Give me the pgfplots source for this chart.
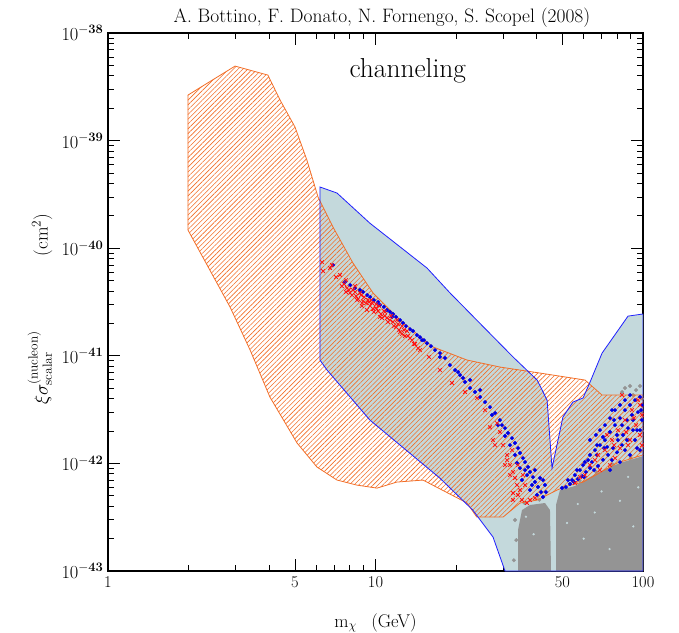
\documentclass[border=0pt]{standalone}
\usepackage{fix-cm}
\usepackage{pgfplots}
\pgfplotsset{compat=1.18}
\usepackage{pgfplotstable}
\usetikzlibrary{patterns.meta}
\definecolor{orng}{RGB}{242,110,40}
\definecolor{bline}{RGB}{30,30,255}
\definecolor{bfill}{RGB}{196,217,220}
\definecolor{gcloud}{RGB}{148,148,148}
\definecolor{rcross}{RGB}{255,20,20}
\definecolor{bdot}{RGB}{0,0,230}

\pgfplotstableread{
x y
6.20 9.14e-42
6.20 3.71e-40
7.18 3.26e-40
9.53 1.71e-40
15.58 6.55e-41
19.0 3.84e-41
23.9 2.15e-41
32.7 9.75e-42
40.2 5.96e-42
43.8 3.88e-42
45.7 9.06e-43
50.2 2.70e-42
54.7 3.72e-42
59.7 4.06e-42
63.4 5.71e-42
70.3 1.06e-41
87.9 2.34e-41
100 2.45e-41
100 1e-43
30.5 1e-43
27.5 2.07e-43
23.1 3.69e-43
17.4 7.31e-43
9.53 2.53e-42
6.59 7.38e-42
6.20 9.14e-42
}\blueregion

\pgfplotstableread{
x y
1.99 2.65e-39
2.985 4.93e-39
3.96 4.07e-39
4.40 2.38e-39
5.00 1.34e-39
5.54 6.6e-40
6.10 2.99e-40
6.94 1.57e-40
8.24 7.28e-41
9.79 3.84e-41
12.35 2.15e-41
16.4 1.21e-41
22.0 9.14e-42
29.2 7.87e-42
41.2 6.92e-42
60.7 5.96e-42
70.3 4.32e-42
100 4.32e-42
100 1.20e-42
80.0 1.01e-42
59.7 6.71e-43
52.0 6.17e-43
47.7 5.66e-43
40.2 4.57e-43
34.7 4.29e-43
30.0 3.18e-43
23.9 3.18e-43
22.0 4.29e-43
15.05 7.01e-43
12.0 6.71e-43
10.13 5.90e-43
8.53 6.29e-43
7.18 7.01e-43
6.04 9.27e-43
5.09 1.55e-42
4.03 4.14e-42
3.40 1.13e-41
2.86 2.84e-41
1.99 1.48e-40
1.99 2.65e-39
}\orangeregion

\begin{document}
\begin{tikzpicture}
\useasboundingbox (-108bp,-62bp) rectangle (571bp,571bp);
\begin{axis}[
  at={(0,0)}, anchor=south west,
  scale only axis, width=535bp, height=538bp,
  clip mode=individual,
  xmode=log, ymode=log,
  xmin=1, xmax=100, ymin=1e-43, ymax=1e-38,
  xtick={1,5,10,50,100}, xticklabels={1,5,10,50,100},
  minor xtick={2,3,4,6,7,8,9,20,30,40,60,70,80,90},
  ytick={1e-43,1e-42,1e-41,1e-40,1e-39,1e-38},
  yticklabels={$10^{\mathbf{-43}}$,$10^{\mathbf{-42}}$,$10^{\mathbf{-41}}$,$10^{\mathbf{-40}}$,$10^{\mathbf{-39}}$,$10^{\mathbf{-38}}$},
  minor ytick={2e-43,3e-43,4e-43,5e-43,6e-43,7e-43,8e-43,9e-43,
               2e-42,3e-42,4e-42,5e-42,6e-42,7e-42,8e-42,9e-42,
               2e-41,3e-41,4e-41,5e-41,6e-41,7e-41,8e-41,9e-41,
               2e-40,3e-40,4e-40,5e-40,6e-40,7e-40,8e-40,9e-40,
               2e-39,3e-39,4e-39,5e-39,6e-39,7e-39,8e-39,9e-39},
  tick align=inside, xtick pos=both, ytick pos=both,
  major tick length=12bp, minor tick length=6bp,
  every tick/.style={black, line width=0.8pt},
  axis line style={line width=1.2pt},
  xticklabel style={font=\fontsize{16.5}{18}\selectfont, yshift=-2bp},
  yticklabel style={font=\fontsize{18.5}{20}\selectfont, xshift=-1bp},
  every axis x label/.style={at={(axis description cs:0.5,-0.072)}, anchor=north, font=\fontsize{18.5}{21}\selectfont},
  every axis y label/.style={at={(axis description cs:-0.127,0.487)}, rotate=90, anchor=center, font=\fontsize{19}{22}\selectfont},
  xlabel={$\mathrm{m}_\chi$\ \ \,(GeV)},
  ylabel={$\xi\sigma^{(\mathrm{nucleon})}_{\mathrm{scalar}}$\hspace{75bp}$(\mathrm{cm}^2)$},
]
% light blue region
\addplot[draw=none, fill=bfill] table {\blueregion};
% gray cloud
\addplot[draw=none, fill=gcloud] coordinates {
(34.10,1e-43) (34.10,2.40e-43) (35.29,3.69e-43) (37.81,4.11e-43) (43.01,4.29e-43) (44.90,3.69e-43) (45.3,1e-43)};
\addplot[draw=none, fill=gcloud] coordinates {
(47.29,1e-43) (47.29,4.11e-43) (48.94,5.66e-43) (55.69,6.17e-43) (63.37,7.47e-43) (72.10,8.87e-43) (82.04,1.01e-42) (100,1.17e-42) (100,1e-43)};
\addplot[only marks, mark=*, mark size=1.8pt, color=gcloud] coordinates {
(85.65,5.02e-42) (89.42,5.24e-42) (94.2,4.81e-42) (97.45,5.24e-42) (91.8,4.32e-42) (83.5,4.61e-42)
(33.23,2.98e-43) (33.6,1.94e-43) (32.9,1.26e-43) (36.0,4.3e-43) (41.0,4.6e-43)
(50.5,5.9e-43) (58.0,6.9e-43) (67.0,8.3e-43) (77.0,9.8e-43) (90.0,1.12e-42) (98.0,1.3e-42)
(99.0,2.0e-42) (98.5,3.0e-42) (99.2,4.0e-42)};
% light speckles inside the cloud
\addplot[only marks, mark=*, mark size=0.9pt, color=bfill] coordinates {
(60.0,2.0e-43) (66.0,3.5e-43) (75.0,1.6e-43) (82.0,4.5e-43) (92.0,2.6e-43) (70.0,5.5e-43)
(88.0,7.5e-43) (57.0,4.2e-43) (39.0,2.2e-43) (36.5,3.2e-43) (52.0,2.8e-43) (96.0,6.0e-43)};
% orange hatched region
\addplot[draw=orng, line width=0.8pt, pattern={Lines[angle=45, distance=3.4pt, line width=0.6pt]}, pattern color=orng] table {\orangeregion};
% blue outline
\addplot[draw=bline, line width=0.8pt] table {\blueregion};
% blue dots
\addplot[only marks, mark=*, mark size=1.8pt, color=bdot] coordinates {
(6.94,6.98e-41) (7.69,4.85e-41) (8.04,4.55e-41) (8.38,4.27e-41) (8.75,4.09e-41) (8.98,3.92e-41)
(9.30,3.67e-41) (9.54,3.52e-41) (9.87,3.30e-41) (10.22,3.16e-41) (10.39,2.97e-41) (10.75,2.85e-41)
(11.04,2.67e-41) (11.33,2.56e-41) (11.63,2.45e-41) (11.93,2.30e-41) (12.35,2.15e-41) (12.67,2.02e-41)
(13.00,1.89e-41) (13.46,1.77e-41) (13.81,1.70e-41) (14.29,1.56e-41) (14.67,1.49e-41) (15.18,1.40e-41)
(15.58,1.31e-41) (16.12,1.23e-41) (16.69,1.13e-41) (17.42,1.06e-41) (18.19,9.54e-42) (18.99,8.21e-42)
(19.83,7.38e-42) (20.70,6.63e-42) (21.61,5.71e-42) (22.56,5.02e-42) (23.55,4.61e-42) (24.59,4.14e-42)
(25.67,3.72e-42) (26.79,3.34e-42) (27.98,2.94e-42) (29.20,2.53e-42) (30.49,2.13e-42) (31.29,1.92e-42)
(32.38,1.72e-42) (33.23,1.55e-42) (34.10,1.39e-42) (34.69,1.25e-42) (35.60,1.12e-42) (36.22,1.03e-42)
(37.17,9.26e-43) (37.81,8.32e-43) (38.80,7.47e-43) (39.47,6.72e-43) (40.50,6.04e-43) (41.57,5.42e-43)
(42.29,4.88e-43) (40.16,5.09e-43) (37.81,5.66e-43) (41.21,7.32e-43) (43.01,6.30e-43) (43.38,5.42e-43)
(36.22,8.68e-43) (36.85,7.80e-43) (33.23,1.20e-42) (31.83,1.48e-42) (30.49,1.80e-42) (28.71,2.27e-42)
(33.81,1.01e-42) (34.69,9.06e-43) (38.47,6.30e-43) (22.56,5.96e-42) (24.59,4.81e-42) (39.47,8.68e-43)
(17.42,9.77e-42) (14.93,1.40e-41) (11.53,2.30e-41) (20.35,7.07e-42) (21.24,6.22e-42) (27.26,2.82e-42)
(29.71,2.27e-42) (35.29,7.01e-43) (42.29,7.01e-43)
(51.5,6.04e-43) (53.34,6.44e-43) (55.2,6.72e-43) (57.1,7.16e-43) (59.2,7.64e-43) (61.2,8.32e-43)
(63.37,9.06e-43) (65.6,8.68e-43) (67.9,9.46e-43) (58.14,8.68e-43) (60.69,1.03e-42) (63.37,1.20e-42)
(66.16,1.33e-42) (69.07,1.48e-42) (72.10,1.65e-42) (75.28,1.96e-42) (78.59,2.27e-42) (82.04,2.64e-42)
(85.65,3.13e-42) (89.42,3.49e-42) (93.35,3.88e-42) (97.45,4.14e-42) (69.07,2.04e-42) (72.10,2.27e-42)
(75.28,2.64e-42) (78.59,3.13e-42) (82.04,3.49e-42) (85.65,3.88e-42) (70.9,1.08e-42) (74.0,1.20e-42)
(77.3,1.39e-42) (80.6,1.65e-42) (84.2,1.84e-42) (87.9,2.13e-42) (91.8,2.53e-42) (95.8,3.0e-42)
(75.28,8.68e-43) (82.04,1.03e-42) (89.42,1.20e-42) (97.45,1.33e-42) (97.45,2.04e-42) (93.35,1.65e-42)
(85.65,1.33e-42) (63.37,1.65e-42) (66.7,1.84e-42) (76.6,3.13e-42) (89.42,4.32e-42) (62.3,1.075e-42)
(55.69,7.80e-43) (99.1,2.53e-42) (59.7,9.66e-43) (67.3,1.20e-42) (80.0,1.27e-42) (87.1,1.65e-42)
(95.0,2.04e-42) (71.5,1.39e-42) (83.5,2.27e-42) (91.0,2.82e-42) (99.1,3.49e-42) (54.3,7.01e-43)
(49.8,5.91e-43)
(52.4,7.01e-43) (56.66,8.68e-43) (60.17,7.47e-43) (64.47,1.03e-42) (67.30,1.48e-42) (70.87,1.76e-42)
(73.37,1.42e-42) (76.59,1.075e-42) (79.95,1.84e-42) (83.46,1.48e-42) (87.14,2.53e-42) (91.75,2.04e-42)
(94.97,1.39e-42) (98.29,3.13e-42) (77.93,2.53e-42)};
% red crosses
\addplot[only marks, mark=x, mark size=2.6pt, color=rcross, mark options={line width=0.8pt}] coordinates {
(6.31,7.44e-41) (6.88,6.98e-41) (6.37,6.14e-41) (6.76,6.55e-41) (7.12,5.40e-41) (7.37,5.64e-41)
(7.63,4.65e-41) (7.83,4.27e-41) (8.04,3.84e-41) (8.24,4.09e-41) (8.46,3.59e-41) (8.61,3.37e-41)
(8.83,3.67e-41) (8.98,3.23e-41) (9.22,3.09e-41) (9.38,3.30e-41) (9.54,2.91e-41) (9.79,2.73e-41)
(10.05,3.03e-41) (10.22,2.61e-41) (10.48,2.45e-41) (10.75,2.61e-41) (11.04,2.25e-41) (11.33,2.15e-41)
(11.63,2.06e-41) (11.93,1.85e-41) (12.35,1.67e-41) (12.78,1.74e-41) (13.23,1.53e-41) (13.69,1.40e-41)
(15.84,9.77e-42) (17.42,7.38e-42) (19.32,5.59e-42) (21.61,4.61e-42) (23.96,4.05e-42) (25.67,3.13e-42)
(27.49,1.65e-42) (28.47,2.37e-42) (29.20,1.96e-42) (29.97,1.48e-42) (31.02,1.20e-42) (31.02,1.075e-42)
(31.83,9.66e-43) (32.38,1.33e-42) (32.66,8.32e-43) (33.23,7.32e-43) (33.81,6.30e-43) (32.66,5.31e-43)
(32.66,4.57e-43) (34.10,5.09e-43) (35.29,4.57e-43) (36.85,4.29e-43) (34.69,5.66e-43) (36.22,6.30e-43)
(37.81,4.57e-43) (39.47,4.77e-43) (35.60,7.80e-43) (34.10,9.66e-43) (31.83,7.80e-43) (30.49,9.66e-43)
(26.79,2.17e-42) (27.98,1.48e-42)
(8.39,3.92e-41) (9.71,3.09e-41) (10.85,2.35e-41) (12.14,1.97e-41) (12.56,1.60e-41) (14.05,1.29e-41)
(14.67,1.13e-41) (8.90,2.91e-41) (7.76,3.92e-41) (10.39,2.30e-41)
(7.49,4.45e-41) (7.76,5.06e-41) (7.96,4.09e-41) (8.17,3.67e-41) (8.38,4.45e-41) (8.53,3.30e-41)
(8.75,3.84e-41) (8.90,3.09e-41) (9.06,3.52e-41) (9.29,2.67e-41) (9.46,3.16e-41) (9.62,3.30e-41)
(9.87,2.56e-41) (10.04,2.79e-41) (10.31,2.91e-41) (10.57,2.25e-41) (10.85,2.56e-41) (11.14,2.06e-41)
(11.43,2.35e-41) (11.73,1.89e-41) (12.03,2.15e-41) (12.24,1.74e-41) (12.56,1.89e-41) (12.89,1.53e-41)
(13.12,1.70e-41) (13.46,1.46e-41) (13.93,1.29e-41) (14.42,1.18e-41)
(66.16,1.075e-42) (72.10,1.33e-42) (76.6,1.65e-42) (80.6,2.04e-42) (85.65,2.53e-42) (91.0,3.13e-42)
(95.8,3.88e-42) (69.07,8.68e-43) (78.59,1.12e-42) (87.9,1.48e-42) (97.45,1.84e-42) (60.69,7.80e-43)
(83.5,4.32e-42) (89.42,1.65e-42) (75.28,9.66e-43) (94.2,2.27e-42) (99.1,1.48e-42) (55.69,6.57e-43)
(82.04,1.39e-42) (73.4,1.84e-42) (63.37,9.66e-43) (99.1,2.82e-42)
(58.14,7.47e-43) (67.9,1.20e-42) (77.93,1.48e-42) (86.4,1.96e-42) (92.5,2.64e-42) (97.45,3.49e-42)};
\node[font=\fontsize{27.5}{30}\selectfont] at (axis cs:13.2,4.5e-39) {channeling};
\node[font=\fontsize{19.5}{22}\selectfont, anchor=base] at (axis description cs:0.512,1.02) {A. Bottino, F. Donato, N. Fornengo, S. Scopel (2008)};
\end{axis}
\end{tikzpicture}
\end{document}
